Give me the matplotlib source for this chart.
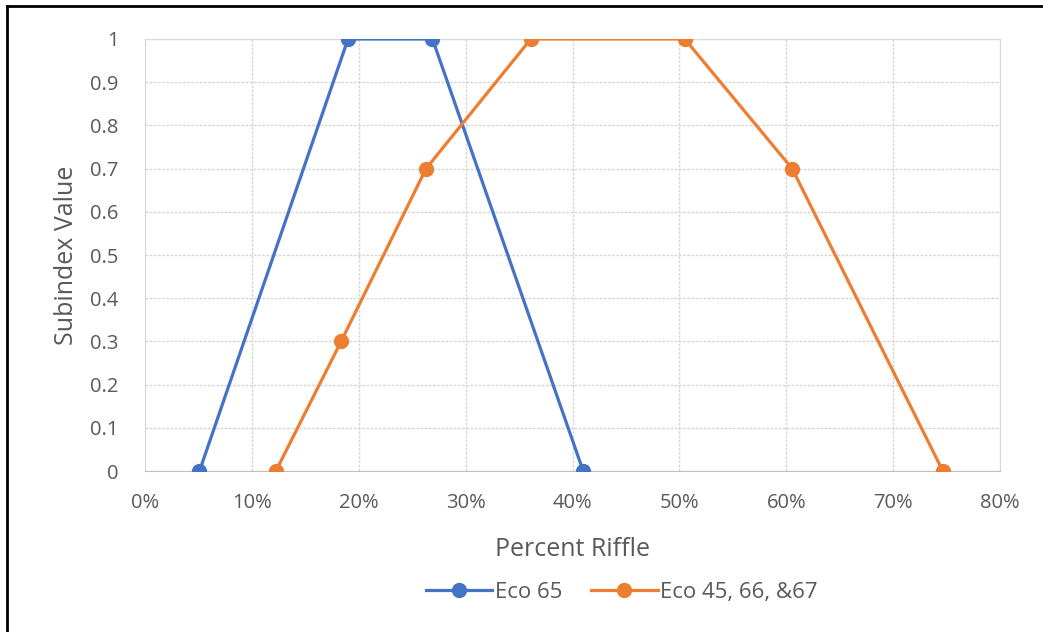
import matplotlib
matplotlib.use("Agg")
import matplotlib.pyplot as plt
from matplotlib.lines import Line2D
from matplotlib.ticker import FuncFormatter, MultipleLocator

# subindex curves: percent riffle (fraction) vs subindex value
eco65_x = [0.051, 0.19, 0.269, 0.41]
eco65_y = [0.0, 1.0, 1.0, 0.0]

eco45_x = [0.1225, 0.1835, 0.263, 0.361, 0.505, 0.6055, 0.7465]
eco45_y = [0.0, 0.3, 0.7, 1.0, 1.0, 0.7, 0.0]

series_names = ["Eco 65", "Eco 45, 66, &67"]

plt.rcParams['font.family'] = ['Open Sans', 'DejaVu Sans']

fig = plt.figure(figsize=(10.43, 6.32), dpi=100)
ax = fig.add_axes([0.139, 0.2547, 0.8198, 0.6836])

blue = '#4472C4'
orange = '#ED7D31'
ax.plot(eco65_x, eco65_y, color=blue, lw=2.3, marker='o', ms=10, label=series_names[0], zorder=3)
ax.plot(eco45_x, eco45_y, color=orange, lw=2.3, marker='o', ms=10, label=series_names[1], zorder=3)

ax.set_xlim(0, 0.8)
ax.set_ylim(0, 1)
ax.xaxis.set_major_locator(MultipleLocator(0.1))
ax.yaxis.set_major_locator(MultipleLocator(0.1))
ax.xaxis.set_major_formatter(FuncFormatter(lambda v, p: f"{round(v * 100):d}%"))
ax.yaxis.set_major_formatter(FuncFormatter(lambda v, p: "0" if abs(v) < 1e-9 else ("1" if abs(v - 1) < 1e-9 else f"{v:.1f}")))

ax.grid(True, color='#d6d6d6', lw=1, linestyle=(0, (2, 1)))
ax.set_axisbelow(True)
for s in ax.spines.values():
    s.set_color('#d9d9d9')
ax.spines['bottom'].set_color('#bfbfbf')
ax.tick_params(length=0, labelsize=14.5, colors='#595959')
ax.tick_params(axis='x', pad=16)
ax.tick_params(axis='y', pad=19)

ax.set_xlabel("Percent Riffle", fontsize=18, color='#595959', labelpad=17)
ax.set_ylabel("Subindex Value", fontsize=18, color='#595959', labelpad=8)

leg = fig.legend(loc='center', bbox_to_anchor=(0.596, 0.063), ncol=2, frameon=False,
                 fontsize=16, handlelength=3.0, handletextpad=0.1, columnspacing=1.3)
for t in leg.get_texts():
    t.set_color('#595959')

# outer frame (top and left edges)
fig.add_artist(Line2D([0.0067, 0.0067], [0, 0.9905], transform=fig.transFigure, color='black', lw=2))
fig.add_artist(Line2D([0.0067, 1], [0.9905, 0.9905], transform=fig.transFigure, color='black', lw=2))

fig.savefig("out.png", dpi=100)
